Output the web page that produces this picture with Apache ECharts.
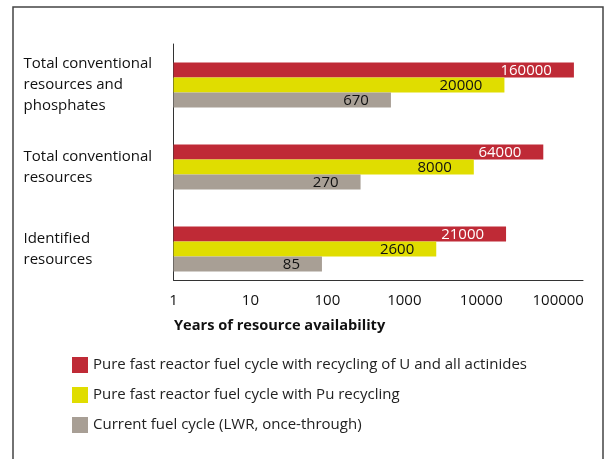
<!DOCTYPE html>
<html>
<head>
<meta charset="utf-8">
<script src="https://cdn.jsdelivr.net/npm/echarts@6/dist/echarts.min.js"></script>
<style>
  html, body { margin: 0; padding: 0; background: #fff; }
  #main { width: 607px; height: 459px; }
</style>
</head>
<body>
<div id="main"></div>
<script>
var categories = ['Total conventional\nresources and\nphosphates', 'Total conventional\nresources', 'Identified\nresources'];
var seriesNames = [
  'Pure fast reactor fuel cycle with recycling of U and all actinides',
  'Pure fast reactor fuel cycle with Pu recycling',
  'Current fuel cycle (LWR, once-through)'
];
var fastAllActinides = [160000, 64000, 21000];
var fastPuRecycling = [20000, 8000, 2600];
var currentLWR = [670, 270, 85];

var font = 'Open Sans';
var myChart = echarts.init(document.getElementById('main'));

function barSeries(name, data, color, labelColor) {
  return {
    name: name,
    type: 'bar',
    data: data,
    xAxisIndex: 0,
    yAxisIndex: 0,
    barWidth: 15,
    barGap: '0%',
    itemStyle: { color: color },
    label: {
      show: true,
      position: 'insideRight',
      distance: 22,
      offset: [0, 1],
      color: labelColor,
      fontFamily: font,
      fontSize: 15
    }
  };
}

option = {
  animation: false,
  color: ['#BF2A36', '#E0DD00', '#A89F95'],
  graphic: [{
    type: 'rect',
    shape: { x: 13, y: 7, width: 590, height: 470 },
    style: { fill: 'none', stroke: '#444', lineWidth: 1.5 },
    silent: true
  }],
  title: {
    text: 'Years of resource availability',
    left: 169,
    top: 313,
    textStyle: { fontFamily: font, fontSize: 14.6, fontWeight: 'bold', color: '#111' }
  },
  legend: {
    orient: 'vertical',
    left: 67,
    top: 352,
    itemWidth: 16,
    itemHeight: 16,
    itemGap: 14,
    icon: 'rect',
    data: seriesNames,
    textStyle: { fontFamily: font, fontSize: 15, color: '#222' }
  },
  grid: [
    { left: 173.5, right: 24, top: 44, bottom: 169 },
    { left: 173.5, right: 24, top: 44, bottom: 179 }
  ],
  xAxis: [{
    type: 'log',
    gridIndex: 0,
    min: 1,
    max: 210000,
    offset: -10,
    axisLine: { show: true, lineStyle: { color: '#333', width: 1 } },
    axisTick: { show: false },
    splitLine: { show: false },
    axisLabel: {
      showMaxLabel: false,
      margin: 13,
      fontFamily: font,
      fontSize: 15,
      color: '#111',
      formatter: function (v) { return String(Math.round(v)); }
    }
  }, {
    type: 'value',
    gridIndex: 1,
    show: true,
    axisLine: { show: false },
    axisTick: { show: false },
    axisLabel: { show: false },
    splitLine: { show: false }
  }],
  yAxis: [{
    type: 'category',
    gridIndex: 0,
    inverse: true,
    data: categories,
    axisLine: { show: false },
    axisTick: { show: false },
    axisLabel: {
      align: 'left',
      margin: 150,
      fontFamily: font,
      fontSize: 15,
      lineHeight: 21,
      color: '#111'
    }
  }, {
    type: 'value',
    gridIndex: 1,
    axisLine: { show: true, lineStyle: { color: '#333', width: 1 } },
    axisTick: { show: false },
    axisLabel: { show: false },
    splitLine: { show: false }
  }],
  series: [
    barSeries(seriesNames[0], fastAllActinides, '#BF2A36', '#fff'),
    barSeries(seriesNames[1], fastPuRecycling, '#E0DD00', '#111'),
    barSeries(seriesNames[2], currentLWR, '#A89F95', '#111')
  ]
};
myChart.setOption(option);
</script>
</body>
</html>
